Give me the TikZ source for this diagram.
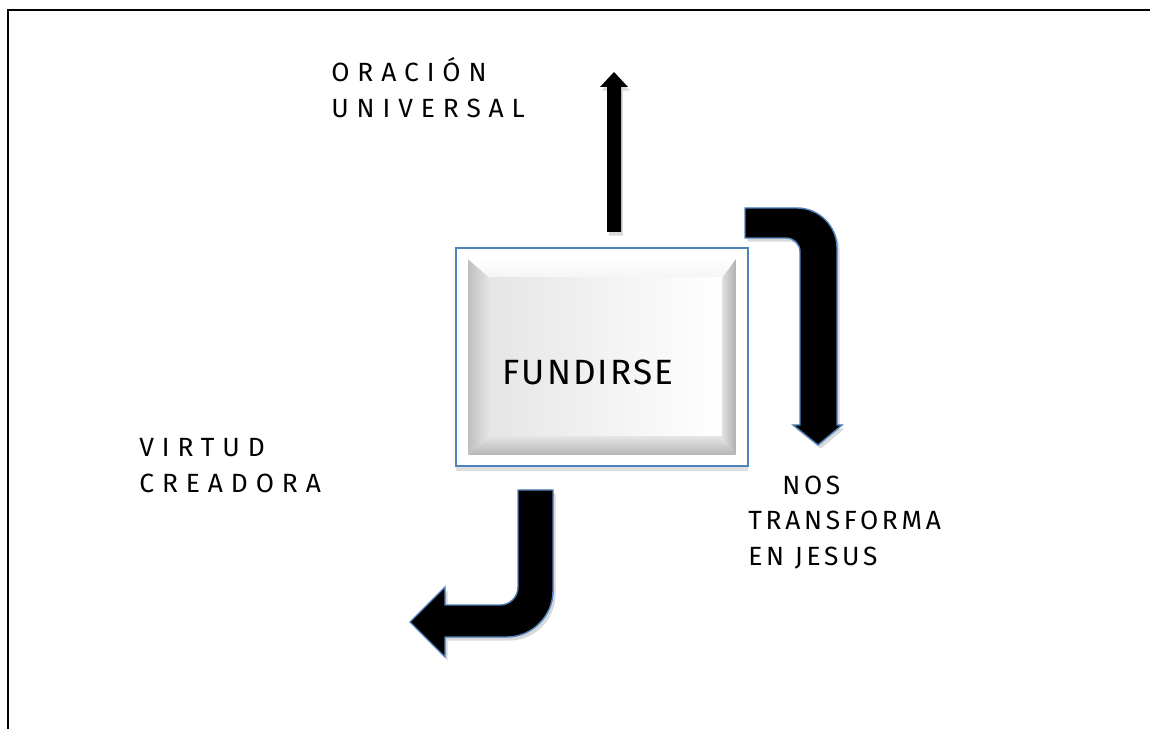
\documentclass[tikz,border=0pt]{standalone}
\usepackage{fontspec}
\usepackage{tikz}
\usetikzlibrary{shadows}
\setmainfont{Fira Sans}
\newfontfamily\labelfont[LetterSpace=30]{Fira Sans}
\newfontfamily\narrowfont[LetterSpace=14]{Fira Sans}
\newfontfamily\boxfont[LetterSpace=6]{Fira Sans}
\definecolor{edgeblue}{RGB}{79,129,189}

\begin{document}
\begin{tikzpicture}[x=0.02cm, y=-0.02cm,
	word node/.style={font=\labelfont\fontsize{15}{20.5}\selectfont, align=left, inner sep=0pt},
	main node/.style={draw=edgeblue, line width=1.2pt, fill=white, minimum width=5.84cm,
		minimum height=4.36cm, inner sep=0pt, drop shadow={shadow xshift=0pt, shadow yshift=-3pt, opacity=0.25}},
	block arrow/.style={fill=black, draw=edgeblue, line width=0.8pt,
		drop shadow={shadow xshift=1.5pt, shadow yshift=-2pt, opacity=0.3}},
	plain arrow/.style={fill=black, drop shadow={shadow xshift=1pt, shadow yshift=-2pt, opacity=0.3}}]
	
	\useasboundingbox (0,0) rectangle (1150,729);
	\draw[line width=1.3pt] (8,729) -- (8,10) -- (1150,10);
	
	% the box
	\node[main node] (box) at (602,357) {};
	\shade[left color=gray!50, right color=gray!20] (468,259) -- (490,278) -- (490,436) -- (468,455) -- cycle;
	\shade[top color=white, bottom color=gray!8] (468,259) -- (736,259) -- (722,278) -- (490,278) -- cycle;
	\shade[left color=gray!25, right color=gray!62] (736,259) -- (736,455) -- (722,436) -- (722,278) -- cycle;
	\shade[top color=gray!20, bottom color=gray!58] (468,455) -- (490,436) -- (722,436) -- (736,455) -- cycle;
	\shade[left color=gray!20, middle color=white, right color=white] (490,278) rectangle (722,436);
	\node[font=\boxfont\fontsize{20}{24}\selectfont, inner sep=0pt, anchor=base] (fundirse) at (588,385) {FUNDIRSE};
	
	% arrows
	\path[plain arrow] (607,232) -- (607,87) -- (600,87) -- (614,72) -- (628,87) -- (621,87) -- (621,232) -- cycle;
	\path[block arrow] (745,208) -- (797,208) .. controls (819,208) and (837,226) .. (837,248)
		-- (837,425) -- (842,425) -- (818,445) -- (793,425) -- (800,425) -- (800,252)
		.. controls (800,244) and (794,238) .. (786,238) -- (745,238) -- cycle;
	\path[block arrow] (518,490) -- (553,490) -- (553,591) .. controls (553,616) and (532,637) .. (507,637)
		-- (445,637) -- (445,657) -- (410,622) -- (445,587) -- (445,605) -- (500,605)
		.. controls (510,605) and (518,597) .. (518,587) -- cycle;
	
	% labels
	\node[word node, anchor=base west] (oracion) at (331,118) {ORACIÓN\\UNIVERSAL};
	\node[word node, anchor=base west] (virtud) at (139,493) {VIRTUD\\CREADORA};
	\node[word node, font=\narrowfont\fontsize{15}{20}\selectfont, anchor=base west] (nos) at (748,565)
		{\hspace{0.68cm}NOS\\TRANSFORMA\\EN JESUS};
	
\end{tikzpicture}
\end{document}
